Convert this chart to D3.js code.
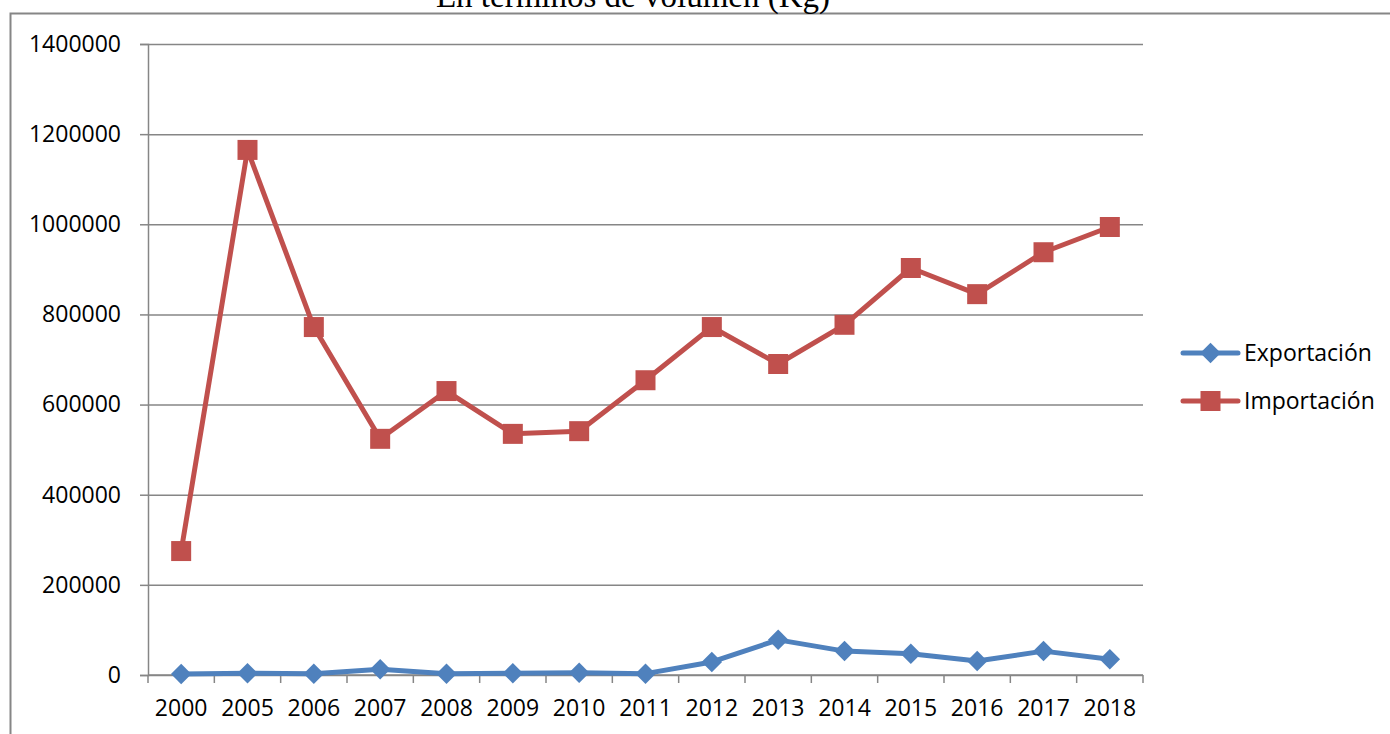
<!DOCTYPE html>
<html>
<head>
<meta charset="utf-8">
<script src="https://cdn.jsdelivr.net/npm/d3@7"></script>
<style>
  body { margin: 0; background: #fff; }
  svg { display: block; }
</style>
</head>
<body>
<div id="chart"></div>
<script>
const years = ['2000', '2005', '2006', '2007', '2008', '2009', '2010', '2011', '2012', '2013', '2014', '2015', '2016', '2017', '2018'];
const exportacion = [2000, 4000, 3000, 13000, 3000, 4000, 5000, 3000, 29000, 78000, 53000, 47000, 31000, 53000, 35000];
const importacion = [275000, 1165000, 772000, 524000, 630000, 535000, 541000, 654000, 772000, 690000, 777000, 903000, 845000, 938000, 994000];
const yTicks = [0, 200000, 400000, 600000, 800000, 1000000, 1200000, 1400000];
const seriesNames = ['Exportación', 'Importación'];
const seriesColors = ['#4F81BD', '#C0504D'];

const W = 1390, H = 734;
const font = '"Open Sans", sans-serif';

const svg = d3.select('#chart').append('svg').attr('width', W).attr('height', H);

// outer frame (cut off on right and bottom)
svg.append('rect').attr('x', 10.5).attr('y', 13.5).attr('width', W + 10).attr('height', H + 10)
  .attr('fill', 'none').attr('stroke', '#868686').attr('stroke-width', 2);

// title, partly cut at the top like the original
svg.append('text').attr('x', 633).attr('y', 7).attr('text-anchor', 'middle')
  .attr('font-family', '"Liberation Serif", serif').attr('font-size', '33px').attr('fill', '#000')
  .text('En términos de volumen (Kg)');

const pLeft = 148, pRight = 1143, pTop = 44, pBottom = 675;
const x = d3.scaleBand().domain(years).range([pLeft, pRight]);
const y = d3.scaleLinear().domain([0, 1400000]).range([pBottom, pTop]);

// gridlines + y axis
svg.append('g').attr('transform', `translate(${pLeft},0)`)
  .call(d3.axisLeft(y).tickValues(yTicks).tickFormat(d3.format('d')).tickSize(8).tickPadding(19))
  .call(g => g.select('.domain').attr('stroke', '#868686').attr('stroke-width', 1.5))
  .call(g => g.selectAll('.tick line').attr('stroke', '#868686').attr('stroke-width', 1.5))
  .call(g => g.selectAll('.tick').append('line').attr('x1', 0).attr('x2', pRight - pLeft)
    .attr('stroke', '#868686').attr('stroke-width', 1.5))
  .call(g => g.selectAll('.tick text').attr('fill', '#000').attr('font-size', '23px').attr('font-family', font));

// x axis
const xAxis = svg.append('g').attr('transform', `translate(0,${pBottom})`);
xAxis.append('line').attr('x1', pLeft).attr('x2', pRight).attr('stroke', '#868686').attr('stroke-width', 1.5);
const bounds = years.map(d => x(d)).concat([pRight]);
xAxis.selectAll('.xtick').data(bounds).join('line').attr('class', 'xtick')
  .attr('x1', d => d).attr('x2', d => d).attr('y1', 0).attr('y2', 8)
  .attr('stroke', '#868686').attr('stroke-width', 1.5);
xAxis.selectAll('.xlabel').data(years).join('text').attr('class', 'xlabel')
  .attr('x', d => x(d) + x.bandwidth() / 2).attr('y', 41).attr('text-anchor', 'middle')
  .attr('font-family', font).attr('font-size', '23px').attr('fill', '#000').text(d => d);

const cx = d => x(d) + x.bandwidth() / 2;
const line = d3.line().x((d, i) => cx(years[i])).y(d => y(d));

// diamond = square turned 45 degrees (equal width and height)
const diamond = d3.symbol().type(d3.symbolSquare).size(210);
const square = d3.symbol().type(d3.symbolSquare).size(400);
const markerRot = s => s === 0 ? ' rotate(45)' : '';

[exportacion, importacion].forEach((vals, s) => {
  const g = svg.append('g');
  g.append('path').datum(vals).attr('d', line).attr('fill', 'none')
    .attr('stroke', seriesColors[s]).attr('stroke-width', 5).attr('stroke-linejoin', 'round');
  g.selectAll('path.m').data(vals).join('path').attr('class', 'm')
    .attr('transform', (d, i) => `translate(${cx(years[i])},${y(d)})${markerRot(s)}`)
    .attr('d', s === 0 ? diamond : square).attr('fill', seriesColors[s]);
});

// legend
const legend = svg.append('g');
seriesNames.forEach((name, i) => {
  const ly = 353 + i * 48;
  const g = legend.append('g').attr('transform', `translate(1183,${ly})`);
  g.append('line').attr('x1', 0).attr('x2', 55).attr('stroke', seriesColors[i]).attr('stroke-width', 5).attr('stroke-linecap', 'round');
  g.append('path').attr('transform', `translate(27.5,0)${markerRot(i)}`).attr('d', i === 0 ? diamond : square).attr('fill', seriesColors[i]);
  g.append('text').attr('x', 61).attr('y', 0).attr('dy', '0.35em')
    .attr('font-family', font).attr('font-size', '23px').attr('fill', '#000').text(name);
});
</script>
</body>
</html>
